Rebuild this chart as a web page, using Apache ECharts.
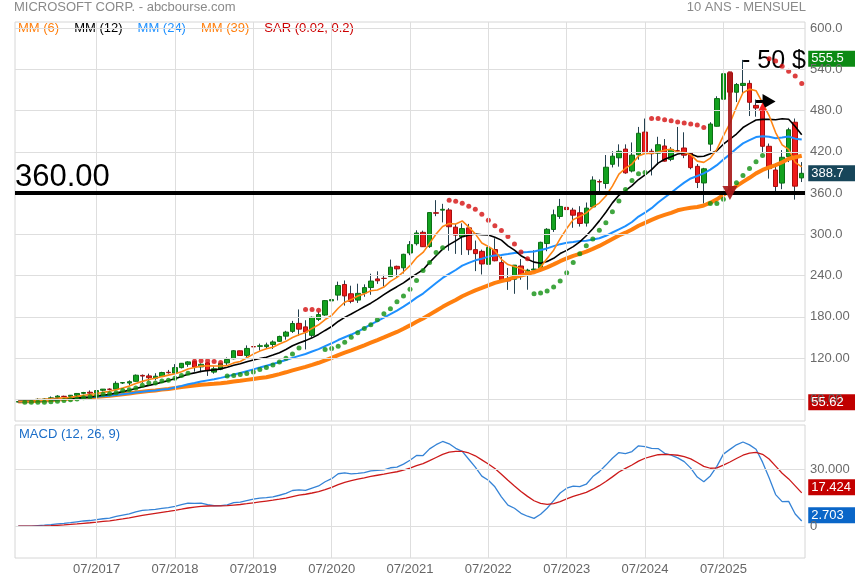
<!DOCTYPE html>
<html>
<head>
<meta charset="utf-8">
<title>MICROSOFT CORP. - 10 ANS - MENSUEL</title>
<script src="https://cdn.jsdelivr.net/npm/echarts@6/dist/echarts.min.js"></script>
<style>
  html, body { margin: 0; padding: 0; background: #fff; }
  #container { width: 855px; height: 580px; }
</style>
</head>
<body>
<div id="container"></div>
<script>
// bougies mensuelles 07/2016 -> 07/2026
var startYear = 2016, startMonth = 7;

var opens = [
  55.91, 56.60, 57.01, 57.41, 59.97, 60.11,
  62.79, 64.36, 64.13, 65.81, 68.68, 70.24, 69.33, 73.10, 74.71, 74.75, 83.68, 83.60,
  86.13, 94.79, 93.99, 90.47, 93.21, 99.28, 98.10, 106.03, 110.85, 114.75, 107.05, 113.00,
  99.55, 103.78, 112.89, 118.95, 130.53, 123.85, 136.63, 137.00, 136.61, 139.66, 144.26, 151.81,
  158.78, 170.43, 165.31, 153.00, 176.25, 182.54, 203.14, 211.52, 227.00, 213.49, 204.29, 214.51,
  222.53, 235.06, 235.90, 238.47, 253.40, 251.23, 272.82, 286.36, 302.87, 282.12, 331.36, 335.13,
  335.35, 310.41, 296.40, 309.37, 277.71, 275.20, 256.39, 277.82, 258.87, 235.41, 234.60, 253.87,
  243.08, 248.00, 250.76, 286.52, 306.97, 325.93, 339.19, 335.19, 331.31, 316.28, 339.79, 376.76,
  373.86, 401.83, 411.27, 423.95, 392.04, 415.60, 448.66, 420.79, 417.91, 428.45, 409.01, 421.57,
  425.53, 418.95, 398.82, 374.65, 431.11, 457.14, 496.47, 535.00, 506.63, 516.50, 519.50, 487.50,
  483.50, 428.00, 393.50, 374.50, 413.00, 463.00, 382.00
];
var highs = [
  56.90, 58.50, 58.70, 61.37, 61.41, 64.10,
  65.91, 65.24, 66.19, 69.14, 70.74, 72.89, 74.42, 74.96, 75.97, 86.20, 85.06, 87.50,
  96.07, 96.07, 97.24, 97.90, 99.99, 102.69, 111.15, 112.78, 115.29, 116.18, 112.24, 113.42,
  107.90, 113.24, 120.82, 131.37, 130.65, 138.40, 141.68, 140.94, 142.37, 145.67, 152.50, 159.55,
  174.05, 190.70, 175.00, 180.40, 187.51, 204.40, 216.38, 231.15, 232.86, 225.21, 228.12, 227.18,
  242.64, 246.13, 241.05, 263.19, 254.35, 271.65, 290.15, 305.84, 305.32, 332.00, 349.67, 344.30,
  338.00, 315.12, 315.95, 315.11, 290.88, 277.69, 282.00, 294.18, 267.45, 251.04, 255.33, 263.92,
  249.83, 276.76, 289.27, 308.93, 335.94, 351.47, 366.78, 338.54, 340.86, 346.20, 384.30, 379.79,
  415.32, 420.82, 430.82, 430.82, 433.60, 456.17, 468.35, 424.35, 441.85, 438.50, 426.84, 456.16,
  448.38, 419.31, 402.15, 396.65, 463.00, 500.76, 555.45, 536.50, 520.00, 553.70, 524.00, 496.00,
  489.00, 432.00, 400.60, 422.50, 455.00, 468.40, 405.00
];
var lows = [
  55.62, 56.14, 55.66, 56.32, 57.28, 58.80,
  61.95, 62.75, 63.62, 64.85, 67.14, 68.09, 68.02, 71.28, 72.92, 73.81, 82.24, 80.70,
  85.50, 83.83, 87.08, 87.51, 92.45, 97.26, 98.00, 104.84, 107.23, 100.11, 99.35, 93.96,
  97.20, 102.35, 108.80, 118.10, 123.04, 119.01, 134.67, 130.78, 134.51, 133.22, 143.37, 146.65,
  156.51, 152.00, 132.52, 150.36, 173.80, 181.35, 197.51, 203.78, 196.25, 199.62, 200.12, 209.11,
  211.94, 227.88, 224.26, 238.05, 238.07, 243.00, 269.60, 283.74, 281.62, 280.25, 326.37, 317.25,
  276.05, 271.52, 270.00, 270.00, 246.44, 241.51, 245.94, 260.66, 232.73, 219.13, 213.43, 233.87,
  219.35, 245.47, 245.61, 275.37, 303.40, 322.50, 327.00, 309.45, 311.21, 311.21, 339.65, 362.90,
  366.50, 397.22, 398.39, 388.03, 390.00, 408.50, 417.26, 385.58, 401.00, 405.80, 406.35, 420.66,
  410.72, 394.56, 367.24, 344.79, 421.00, 456.89, 488.08, 500.00, 492.37, 505.00, 472.00, 471.00,
  418.00, 381.00, 362.00, 365.60, 405.00, 350.40, 376.00
];
var closes = [
  56.68, 57.46, 57.60, 59.92, 60.26, 62.14,
  64.65, 63.98, 65.86, 68.46, 69.84, 68.93, 72.70, 74.77, 74.49, 83.18, 84.17, 85.54,
  95.01, 93.77, 91.27, 93.52, 98.84, 98.61, 106.08, 112.33, 114.37, 106.81, 110.89, 101.57,
  104.43, 112.03, 117.94, 130.60, 123.68, 133.96, 136.27, 137.86, 139.03, 143.37, 151.38, 157.70,
  170.23, 162.01, 157.71, 179.21, 183.25, 203.51, 205.01, 225.53, 210.33, 202.47, 214.07, 222.42,
  231.96, 232.38, 235.77, 252.18, 249.68, 270.90, 284.91, 301.88, 281.92, 331.62, 330.59, 336.32,
  310.98, 298.79, 308.31, 277.52, 271.87, 256.83, 280.74, 261.47, 232.90, 232.13, 255.14, 239.82,
  247.81, 249.42, 288.30, 307.26, 328.39, 340.54, 335.92, 327.76, 315.75, 338.11, 378.91, 376.04,
  397.58, 413.64, 420.72, 389.33, 415.13, 446.95, 418.35, 417.14, 430.30, 406.35, 423.46, 421.50,
  415.06, 396.99, 375.39, 395.26, 460.36, 497.41, 533.50, 506.69, 517.93, 519.50, 492.01, 483.62,
  428.00, 395.50, 369.50, 412.00, 452.00, 370.00, 388.70
];

// graduations de droite
var priceTicks = [600, 540, 480, 420, 360, 300, 240, 180, 120, 60];
var priceTickLabels = ['600.0', '540.0', '480.0', '420.0', '360.0', '300.0', '240.0', '180.00', '120.00', '60.00'];
var macdTicks = [30, 0];
var macdTickLabels = ['30.000', '0'];

// etiquettes de valeur (plus haut, dernier, plus bas / signal, macd)
var priceTagValues = [555.5, 388.7, 55.62];
var priceTagTexts = ['555.5', '388.7', '55.62'];
var macdTagValues = [17.424, 2.703];
var macdTagTexts = ['17.424', '2.703'];

// tracés ajoutés à la main
var supportLevel = 360;
var dropArrow = [['08/2025', 537], ['08/2025', 360]];
var flatArrow = [['12/2025', 493], ['02/2026', 493]];
var smallArrow = [['01/2026', 471], ['01/2026', 486]];

var n = closes.length;
var months = [];
for (var i = 0; i < n; i++) {
  var m = (startMonth - 1 + i) % 12 + 1;
  var y = startYear + Math.floor((startMonth - 1 + i) / 12);
  months.push((m < 10 ? '0' : '') + m + '/' + y);
}
var lastMonth = months[n - 1];
var julys = months.filter(function (v, k) { return v.indexOf('07/') === 0 && k > 0 && k < n - 1; });

function movingAverage(values, len) {
  return values.map(function (v, i) {
    var from = Math.max(0, i - len + 1), s = 0;
    for (var k = from; k <= i; k++) s += values[k];
    return +(s / (i - from + 1)).toFixed(2);
  });
}

function ema(values, len) {
  var a = 2 / (len + 1), prev = values[0];
  return values.map(function (v, i) {
    prev = i === 0 ? v : prev + a * (v - prev);
    return prev;
  });
}

// SAR parabolique (0.02, 0.2)
function parabolicSar(h, l, step, maxAf) {
  var up = true, af = step, ep = h[0], sar = l[0];
  var upOut = ['-'], downOut = ['-'];
  for (var i = 1; i < h.length; i++) {
    sar = sar + af * (ep - sar);
    if (up) {
      sar = Math.min(sar, l[i - 1], l[Math.max(0, i - 2)]);
      if (l[i] < sar) { up = false; sar = ep; ep = l[i]; af = step; }
      else if (h[i] > ep) { ep = h[i]; af = Math.min(af + step, maxAf); }
    } else {
      sar = Math.max(sar, h[i - 1], h[Math.max(0, i - 2)]);
      if (h[i] > sar) { up = true; sar = ep; ep = h[i]; af = step; }
      else if (l[i] < ep) { ep = l[i]; af = Math.min(af + step, maxAf); }
    }
    upOut.push(up ? +sar.toFixed(2) : '-');
    downOut.push(up ? '-' : +sar.toFixed(2));
  }
  return { up: upOut, down: downOut };
}

var ma6 = movingAverage(closes, 6);
var ma12 = movingAverage(closes, 12);
var ma24 = movingAverage(closes, 24);
var ma39 = movingAverage(closes, 39);
var sar = parabolicSar(highs, lows, 0.02, 0.2);
var ema12 = ema(closes, 12), ema26 = ema(closes, 26);
var macd = closes.map(function (c, i) { return +(ema12[i] - ema26[i]).toFixed(3); });
var signal = ema(macd, 9).map(function (v) { return +v.toFixed(3); });

var wickData = opens.map(function (o, i) { return [o, closes[i], lows[i], highs[i]]; });
var bodyData = opens.map(function (o, i) {
  return [o, closes[i], Math.min(o, closes[i]), Math.max(o, closes[i])];
});
var blank = closes.map(function () { return '-'; });

var font = 'Liberation Sans';
var gridColor = '#dedede';

function gridLines(ticks, labels) {
  return julys.map(function (v) { return { xAxis: v, label: { show: false } }; })
    .concat(ticks.map(function (v, k) {
      return {
        yAxis: v,
        label: { show: true, position: 'end', distance: 5, formatter: labels[k],
          color: '#6a6a6a', fontSize: 13, fontFamily: font, padding: [0, 0, 6, 0] }
      };
    }));
}

function tags(values, texts, colors, dy) {
  return values.map(function (v, k) {
    return {
      coord: [lastMonth, v], symbol: 'rect', symbolSize: [47, 16], symbolOffset: [30, dy],
      itemStyle: { color: colors[k] },
      label: { show: true, position: 'insideLeft', distance: 3, formatter: texts[k],
        color: '#fff', fontSize: 13, fontFamily: font }
    };
  });
}

var dom = document.getElementById('container');
var myChart = echarts.init(dom, null, { renderer: 'canvas' });

var option = {
  animation: false,
  backgroundColor: '#fff',
  textStyle: { fontFamily: font },
  title: [
    { text: 'MICROSOFT CORP. - abcbourse.com', left: 14, top: 1, padding: 0,
      textStyle: { fontSize: 13, fontWeight: 'normal', color: '#8a8a8a', fontFamily: font } },
    { text: '10 ANS - MENSUEL', right: 49, top: 1, padding: 0,
      textStyle: { fontSize: 13, fontWeight: 'normal', color: '#8a8a8a', fontFamily: font } },
    { text: 'MACD (12, 26, 9)', left: 19, top: 428, padding: 0,
      textStyle: { fontSize: 13, fontWeight: 'normal', color: '#1a6dc8', fontFamily: font } }
  ],
  legend: {
    left: 13, top: 21, padding: 0, itemGap: 10, itemWidth: 0, itemHeight: 14,
    icon: 'none', selectedMode: false,
    textStyle: { fontSize: 13, fontFamily: font },
    data: [
      { name: 'MM (6)', textStyle: { color: '#ff7f0e' } },
      { name: 'MM (12)', textStyle: { color: '#000' } },
      { name: 'MM (24)', textStyle: { color: '#1e90ff' } },
      { name: 'MM (39)', textStyle: { color: '#ff7f0e' } },
      { name: 'SAR (0.02, 0.2)', textStyle: { color: '#cc0000' } }
    ]
  },
  graphic: [
    { type: 'text', left: 742, top: 49, z: 0,
      style: { text: '- 50 $', fontSize: 25, fontFamily: font, fill: '#000' } }
  ],
  grid: [
    { left: 15, right: 50, top: 22, height: 399, show: true, borderColor: '#d6d6d6', borderWidth: 1 },
    { left: 15, right: 50, top: 425, height: 133, show: true, borderColor: '#d6d6d6', borderWidth: 1 }
  ],
  xAxis: [
    { type: 'category', gridIndex: 0, data: months,
      axisLine: { show: false }, axisTick: { show: false }, axisLabel: { show: false }, splitLine: { show: false } },
    { type: 'category', gridIndex: 1, data: months,
      axisLine: { show: false }, axisTick: { show: false }, splitLine: { show: false },
      axisLabel: { margin: 5, color: '#666', fontSize: 13, fontFamily: font,
        interval: function (idx, val) { return julys.indexOf(val) >= 0; } } }
  ],
  yAxis: [
    { type: 'value', gridIndex: 0, position: 'right', min: 28.4, max: 608.8,
      axisLine: { show: false }, axisTick: { show: false }, axisLabel: { show: false }, splitLine: { show: false } },
    { type: 'value', gridIndex: 1, position: 'right', min: -16.7, max: 53.3,
      axisLine: { show: false }, axisTick: { show: false }, axisLabel: { show: false }, splitLine: { show: false } }
  ],
  series: [
    { name: 'grille prix', type: 'line', xAxisIndex: 0, yAxisIndex: 0, data: blank, z: 1, silent: true,
      markLine: { silent: true, symbol: 'none', animation: false,
        lineStyle: { color: gridColor, width: 1, type: 'solid' },
        data: gridLines(priceTicks, priceTickLabels) } },
    { name: 'grille macd', type: 'line', xAxisIndex: 1, yAxisIndex: 1, data: blank, z: 1, silent: true,
      markLine: { silent: true, symbol: 'none', animation: false,
        lineStyle: { color: gridColor, width: 1, type: 'solid' },
        data: gridLines(macdTicks, macdTickLabels) } },
    { name: 'meches', type: 'candlestick', xAxisIndex: 0, yAxisIndex: 0, data: wickData, barWidth: 1, z: 2,
      itemStyle: { color: '#24404f', color0: '#24404f', borderColor: '#24404f', borderColor0: '#24404f', borderWidth: 1 } },
    { name: 'cours', type: 'candlestick', xAxisIndex: 0, yAxisIndex: 0, data: bodyData, barWidth: 5, z: 2,
      itemStyle: { color: '#13a21f', color0: '#ee1b1b', borderColor: '#0c6f15', borderColor0: '#a60f0f', borderWidth: 1 } },
    { name: 'MM (39)', type: 'line', xAxisIndex: 0, yAxisIndex: 0, data: ma39, showSymbol: false, z: 3,
      lineStyle: { color: '#ff7f0e', width: 4 }, itemStyle: { color: '#ff7f0e' } },
    { name: 'MM (24)', type: 'line', xAxisIndex: 0, yAxisIndex: 0, data: ma24, showSymbol: false, z: 3,
      lineStyle: { color: '#1e90ff', width: 2 }, itemStyle: { color: '#1e90ff' } },
    { name: 'MM (12)', type: 'line', xAxisIndex: 0, yAxisIndex: 0, data: ma12, showSymbol: false, z: 3,
      lineStyle: { color: '#000', width: 1.6 }, itemStyle: { color: '#000' } },
    { name: 'MM (6)', type: 'line', xAxisIndex: 0, yAxisIndex: 0, data: ma6, showSymbol: false, z: 3,
      lineStyle: { color: '#ff8514', width: 1.6 }, itemStyle: { color: '#ff8514' } },
    { name: 'SAR (0.02, 0.2)', type: 'scatter', xAxisIndex: 0, yAxisIndex: 0, data: sar.up, z: 4,
      symbolSize: 5, itemStyle: { color: '#109010' } },
    { name: 'SAR (0.02, 0.2)', type: 'scatter', xAxisIndex: 0, yAxisIndex: 0, data: sar.down, z: 4,
      symbolSize: 5, itemStyle: { color: '#d40f0f' } },
    { name: 'MACD', type: 'line', xAxisIndex: 1, yAxisIndex: 1, data: macd, showSymbol: false, z: 3,
      lineStyle: { color: '#3583d6', width: 1.3 } },
    { name: 'Signal', type: 'line', xAxisIndex: 1, yAxisIndex: 1, data: signal, showSymbol: false, z: 3,
      lineStyle: { color: '#cc1a1a', width: 1.3 } },
    { name: 'support', type: 'line', xAxisIndex: 0, yAxisIndex: 0, data: blank, z: 5, silent: true,
      markLine: { silent: true, symbol: 'none', animation: false,
        data: [{ yAxis: supportLevel, lineStyle: { color: '#000', width: 4, type: 'solid' },
          label: { show: true, position: 'insideStartTop', distance: 0, formatter: supportLevel.toFixed(2),
            fontSize: 31, color: '#000', fontFamily: font } }] } },
    { name: 'fleches', type: 'line', xAxisIndex: 0, yAxisIndex: 0, data: blank, z: 5, silent: true,
      markLine: { silent: true, animation: false, label: { show: false },
        data: [
          [{ coord: dropArrow[0], symbol: 'none', lineStyle: { color: '#a81a1a', width: 4, type: 'solid', opacity: 0.92 } },
           { coord: dropArrow[1], symbol: 'triangle', symbolSize: [15, 14] }],
          [{ coord: flatArrow[0], symbol: 'none', lineStyle: { color: '#000', width: 3, type: 'solid' } },
           { coord: flatArrow[1], symbol: 'triangle', symbolSize: [15, 13] }],
          [{ coord: smallArrow[0], symbol: 'none', lineStyle: { color: '#ff2424', width: 1.5, type: 'solid' } },
           { coord: smallArrow[1], symbol: 'triangle', symbolSize: [8, 8] }]
        ] } },
    { name: 'etiquettes prix', type: 'line', xAxisIndex: 0, yAxisIndex: 0, data: blank, z: 6, silent: true,
      markPoint: { silent: true, animation: false,
        data: tags(priceTagValues, priceTagTexts, ['#0c8a14', '#17465a', '#c00000'], 0) } },
    { name: 'etiquettes macd', type: 'line', xAxisIndex: 1, yAxisIndex: 1, data: blank, z: 6, silent: true,
      markPoint: { silent: true, animation: false,
        data: tags(macdTagValues, macdTagTexts, ['#c40000', '#0a66c8'], -6) } }
  ]
};

if (option && typeof option === 'object') {
  myChart.setOption(option);
}

window.addEventListener('resize', myChart.resize);
</script>
</body>
</html>
